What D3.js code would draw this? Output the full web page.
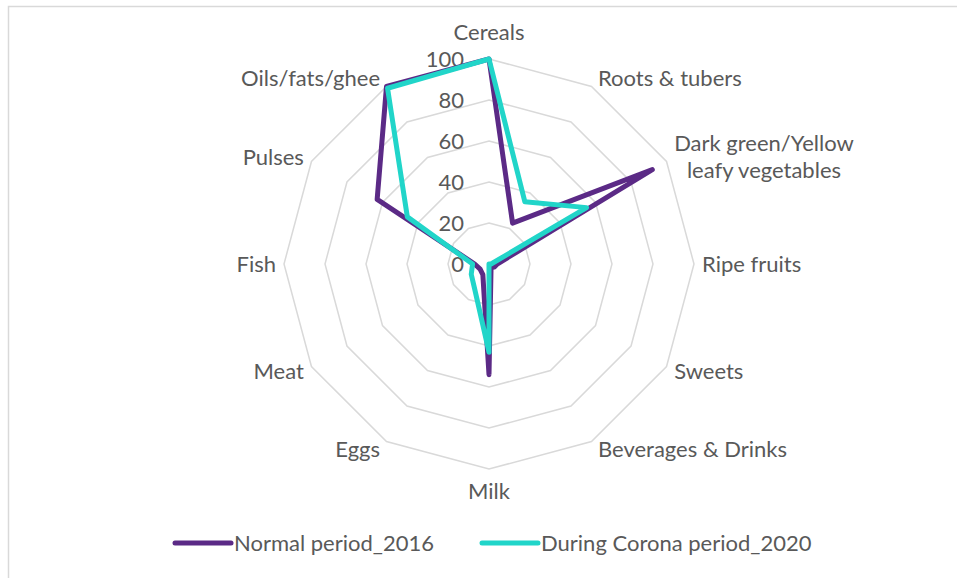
<!DOCTYPE html>
<html><head><meta charset="utf-8">
<script src="https://cdn.jsdelivr.net/npm/d3@7"></script>
<style>
html,body{margin:0;padding:0;background:#fff;}
svg text{font-family:"Lato","Open Sans",sans-serif;fill:#595959;}
</style></head>
<body>
<svg id="chart" width="957" height="578"></svg>
<script>
// ---- data ----
const categories = ["Cereals","Roots & tubers","Dark green/Yellow\nleafy vegetables","Ripe fruits","Sweets","Beverages & Drinks","Milk","Eggs","Meat","Fish","Pulses","Oils/fats/ghee"];
const normal2016 = [100, 23, 92, 4, 3, 2, 54, 6, 5, 7, 63, 100];
const corona2020 = [100, 35, 55, 1, 0, 0, 43, 14, 10, 8, 46, 99];
const tickValues = [0, 20, 40, 60, 80, 100];
const seriesNames = ["Normal period_2016", "During Corona period_2020"];
const seriesColors = ["#5b2a86", "#21d5c9"];

// ---- layout ----
const W = 957, H = 578;
const cx = 489, cy = 264, R = 205;
const FS = 22;

const svg = d3.select("#chart");
svg.append("rect").attr("x", 8.5).attr("y", 6.5).attr("width", W).attr("height", H)
  .attr("fill", "#fff").attr("stroke", "#d9d9d9").attr("stroke-width", 1.5);

const n = categories.length;
const angle = d3.scaleLinear().domain([0, n]).range([0, 2 * Math.PI]);
const r = d3.scaleLinear().domain([0, 100]).range([0, R]);

const g = svg.append("g").attr("transform", `translate(${cx},${cy})`);

// grid polygons
const ringLine = d3.lineRadial().angle((d, i) => angle(i)).radius(d => r(d)).curve(d3.curveLinearClosed);
g.selectAll("path.grid").data(tickValues.filter(t => t > 0)).enter().append("path")
  .attr("class", "grid")
  .attr("d", t => ringLine(categories.map(() => t)))
  .attr("fill", "none").attr("stroke", "#d9d9d9").attr("stroke-width", 1.5);

// tick labels
g.selectAll("text.tick").data(tickValues).enter().append("text")
  .attr("class", "tick")
  .attr("x", -25).attr("y", t => -r(t))
  .attr("dy", "0.35em").attr("text-anchor", "end")
  .style("font-size", FS + "px")
  .text(t => t);

// series lines
const seriesLine = d3.lineRadial().angle((d, i) => angle(i)).radius(d => r(d)).curve(d3.curveLinearClosed);
[normal2016, corona2020].forEach((vals, k) => {
  g.append("path").attr("d", seriesLine(vals))
    .attr("fill", "none").attr("stroke", seriesColors[k]).attr("stroke-width", 5)
    .attr("stroke-linejoin", "round");
});

// category labels
categories.forEach((c, i) => {
  const a = angle(i);
  const s = Math.sin(a), co = Math.cos(a);
  const vx = r(100) * s, vy = -r(100) * co;
  const lines = c.split("\n");
  const lh = FS * 1.24;
  let x, y, anchor;
  if (Math.abs(s) < 0.01) {
    anchor = "middle"; x = vx; y = vy + (co > 0 ? -27 : 22);
  } else {
    const gap = 5 + 3 * Math.abs(s);
    anchor = s > 0 ? "start" : "end";
    x = vx + (s > 0 ? gap : -gap);
    y = vy - co * 9;
  }
  const t = g.append("text").style("font-size", FS + "px").attr("text-anchor", anchor);
  const y0 = y - (lines.length - 1) * lh / 2;
  lines.forEach((ln, j) => {
    t.append("tspan").attr("x", x).attr("y", y0 + j * lh).attr("dy", "0.35em").text(ln);
  });
  if (lines.length > 1) {
    // center-align multi-line block
    const widths = t.selectAll("tspan").nodes().map(nd => nd.getComputedTextLength());
    const maxW = d3.max(widths);
    const left = anchor === "start" ? x : anchor === "end" ? x - maxW : x - maxW / 2;
    t.attr("text-anchor", "middle");
    t.selectAll("tspan").attr("x", left + maxW / 2);
  }
});

// legend
const legend = svg.append("g");
const legendX = [175, 482], legendY = 543;
seriesNames.forEach((name, k) => {
  legend.append("line").attr("x1", legendX[k]).attr("x2", legendX[k] + 56)
    .attr("y1", legendY).attr("y2", legendY)
    .attr("stroke", seriesColors[k]).attr("stroke-width", 5).attr("stroke-linecap", "round");
  legend.append("text").attr("x", legendX[k] + 59).attr("y", legendY).attr("dy", "0.35em")
    .style("font-size", FS + "px").text(name);
});
</script>
</body></html>
